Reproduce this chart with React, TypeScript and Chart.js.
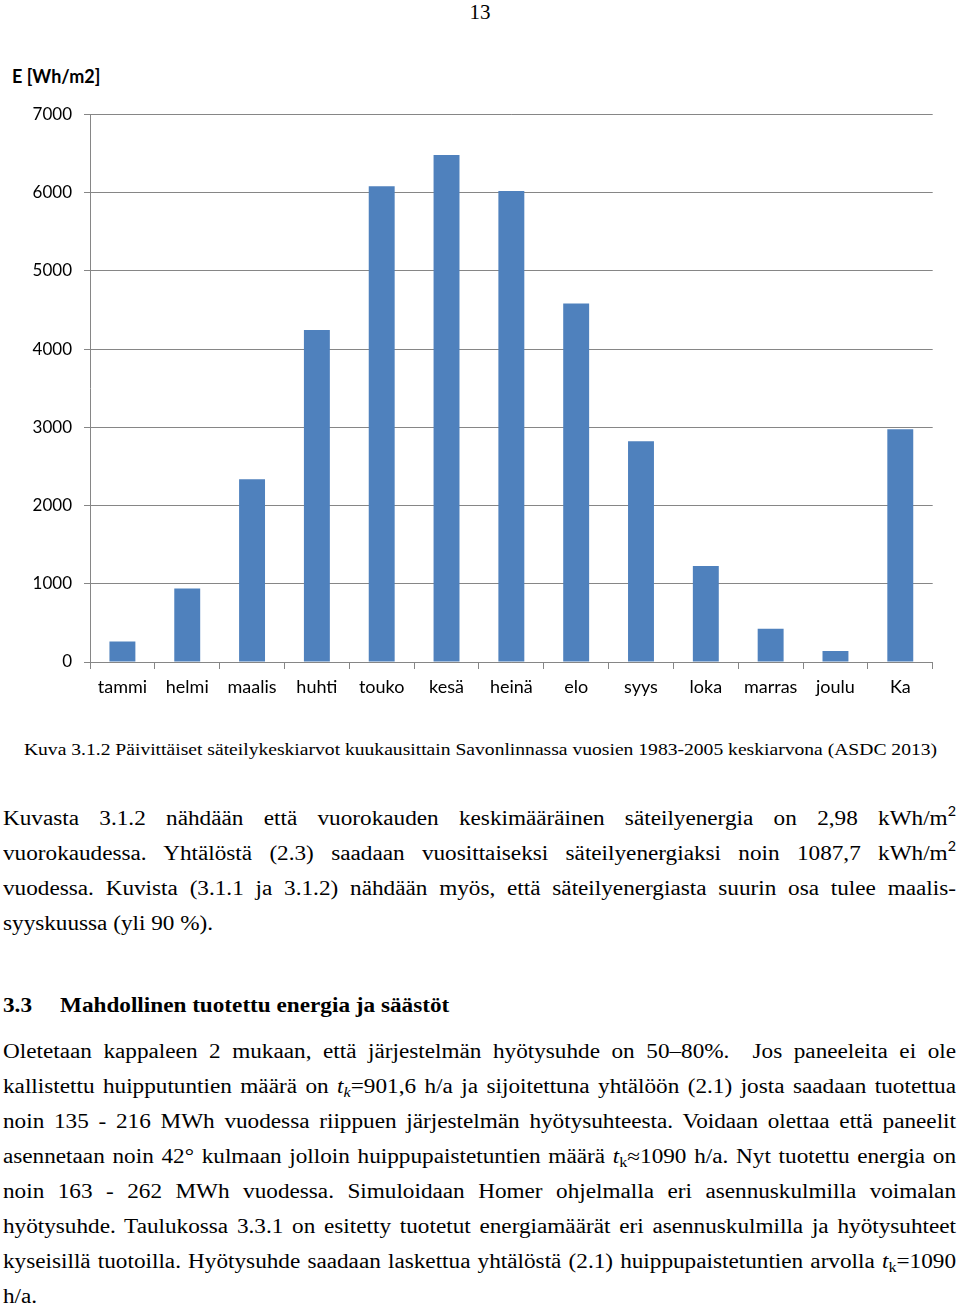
import React, { useEffect, useRef } from "react";
import { Chart, registerables } from "chart.js";

Chart.register(...registerables);

// ---- chart data ----
const months = ["tammi", "helmi", "maalis", "huhti", "touko", "kesä", "heinä", "elo", "syys", "loka", "marras", "joulu", "Ka"];
const radiation = [262, 940, 2336, 4246, 6083, 6483, 6023, 4582, 2822, 1228, 426, 141, 2976];
const yMin = 0;
const yMax = 7000;
const yStep = 1000;
const yAxisTitle = "E [Wh/m2]";

// ---- page text ----
const pageNumber = "13";
const caption = "Kuva 3.1.2 Päivittäiset säteilykeskiarvot kuukausittain Savonlinnassa vuosien 1983-2005 keskiarvona (ASDC 2013)";
const heading = ["3.3", "Mahdollinen tuotettu energia ja säästöt"];

const SERIF = '"Liberation Serif", "Times New Roman", serif';
const SANS = 'Lato, "Open Sans", sans-serif';
const GRID = "#868686";
const SX = 1.16; // horizontal stretch of the scanned page text

const sup2 = <sup style={{ fontSize: "0.62em", lineHeight: 0, verticalAlign: "0.75em", fontFamily: "Lato, sans-serif" }}>2</sup>;
const tk = (italicK: boolean) => (
  <>
    <i>t</i>
    <sub style={{ fontSize: "0.7em", lineHeight: 0, verticalAlign: "-0.3em" }}>{italicK ? <i>k</i> : "k"}</sub>
  </>
);

const para1: React.ReactNode[] = [
  <>Kuvasta 3.1.2 nähdään että vuorokauden keskimääräinen säteilyenergia on 2,98 kWh/m{sup2}</>,
  <>vuorokaudessa. Yhtälöstä (2.3) saadaan vuosittaiseksi säteilyenergiaksi noin 1087,7 kWh/m{sup2}</>,
  <>vuodessa. Kuvista (3.1.1 ja 3.1.2) nähdään myös, että säteilyenergiasta suurin osa tulee maalis-</>,
  <>syyskuussa (yli 90 %).</>,
];

const para2: React.ReactNode[] = [
  <>Oletetaan kappaleen 2 mukaan, että järjestelmän hyötysuhde on 50–80%.&nbsp; Jos paneeleita ei ole</>,
  <>kallistettu huipputuntien määrä on {tk(true)}=901,6 h/a ja sijoitettuna yhtälöön (2.1) josta saadaan tuotettua</>,
  <>noin 135 - 216 MWh vuodessa riippuen järjestelmän hyötysuhteesta. Voidaan olettaa että paneelit</>,
  <>asennetaan noin 42° kulmaan jolloin huippupaistetuntien määrä {tk(false)}≈1090 h/a. Nyt tuotettu energia on</>,
  <>noin 163 - 262 MWh vuodessa. Simuloidaan Homer ohjelmalla eri asennuskulmilla voimalan</>,
  <>hyötysuhde. Taulukossa 3.3.1 on esitetty tuotetut energiamäärät eri asennuskulmilla ja hyötysuhteet</>,
  <>kyseisillä tuotoilla. Hyötysuhde saadaan laskettua yhtälöstä (2.1) huippupaistetuntien arvolla {tk(false)}=1090</>,
  <>h/a.</>,
];

function Line({ center, children, justify }: { center: number; children: React.ReactNode; justify: boolean }) {
  return (
    <div
      style={{
        position: "absolute",
        left: 3,
        width: 953 / SX,
        top: center - 17.5,
        height: 35,
        lineHeight: "35px",
        fontFamily: SERIF,
        fontSize: 20,
        color: "#000",
        textAlign: justify ? "justify" : "left",
        textAlignLast: justify ? "justify" : "left",
        transform: `scaleX(${SX})`,
        transformOrigin: "0 0",
      } as React.CSSProperties}
    >
      {children}
    </div>
  );
}

function BarChart() {
  const ref = useRef<HTMLCanvasElement | null>(null);
  useEffect(() => {
    if (!ref.current) return;
    const chart = new Chart(ref.current, {
      type: "bar",
      data: {
        labels: months,
        datasets: [
          {
            data: radiation,
            backgroundColor: "#4F81BD",
            borderWidth: 0,
            barPercentage: 0.4,
            categoryPercentage: 1,
          },
        ],
      },
      options: {
        animation: false,
        responsive: false,
        devicePixelRatio: 1,
        layout: { padding: { top: 24.5, right: 27.3, left: 0, bottom: 0 } },
        plugins: { legend: { display: false }, tooltip: { enabled: false }, title: { display: false } },
        scales: {
          x: {
            offset: true,
            grid: {
              offset: true,
              drawOnChartArea: false,
              drawTicks: true,
              tickLength: 7,
              color: GRID,
              lineWidth: 1,
            },
            border: { display: true, color: GRID, width: 1 },
            ticks: {
              color: "#000",
              font: { family: SANS, size: 18 },
              padding: 7,
              maxRotation: 0,
              autoSkip: false,
            },
            afterFit: (scale: any) => {
              scale.height = 48;
            },
          },
          y: {
            min: yMin,
            max: yMax,
            grid: { color: GRID, lineWidth: 1, drawTicks: true, tickLength: 6 },
            border: { display: true, color: GRID, width: 1 },
            ticks: {
              stepSize: yStep,
              color: "#000",
              font: { family: SANS, size: 17 },
              padding: 12,
              callback: (v: any) => String(v),
            },
            afterFit: (scale: any) => {
              scale.width = 90;
            },
          },
        },
      },
    });
    return () => chart.destroy();
  }, []);
  return (
    <canvas
      ref={ref}
      width={960}
      height={620}
      style={{ position: "absolute", left: 0, top: 90, width: 960, height: 620 }}
    />
  );
}

export default function App() {
  const headStyle: React.CSSProperties = {
    position: "absolute",
    top: 1005 - 17.5,
    height: 35,
    lineHeight: "35px",
    fontFamily: SERIF,
    fontSize: 20,
    fontWeight: 700,
    whiteSpace: "nowrap",
    transform: `scaleX(${SX})`,
    transformOrigin: "0 0",
  };
  return (
    <div style={{ position: "absolute", left: 0, top: 0, width: 960, height: 1307, background: "#fff", overflow: "hidden" }}>
      <div style={{ position: "absolute", left: 0, width: 960, top: 0, textAlign: "center", fontFamily: SERIF, fontSize: 21, lineHeight: "24px" }}>
        {pageNumber}
      </div>
      <div style={{ position: "absolute", left: 12, top: 64, fontFamily: SANS, fontWeight: 700, fontSize: 18, lineHeight: "24px" }}>
        {yAxisTitle}
      </div>
      <BarChart />
      <div
        style={{
          position: "absolute",
          left: 0,
          width: 961 / SX,
          top: 738,
          textAlign: "center",
          fontFamily: SERIF,
          fontSize: 16.9,
          lineHeight: "24px",
          whiteSpace: "nowrap",
          transform: `scaleX(${SX})`,
          transformOrigin: "0 0",
        }}
      >
        {caption}
      </div>
      {para1.map((c, i) => (
        <Line key={"p1" + i} center={818 + i * 35} justify={i < para1.length - 1}>
          {c}
        </Line>
      ))}
      <div style={{ ...headStyle, left: 3 }}>{heading[0]}</div>
      <div style={{ ...headStyle, left: 60 }}>{heading[1]}</div>
      {para2.map((c, i) => (
        <Line key={"p2" + i} center={1051 + i * 35} justify={i < para2.length - 1}>
          {c}
        </Line>
      ))}
    </div>
  );
}
